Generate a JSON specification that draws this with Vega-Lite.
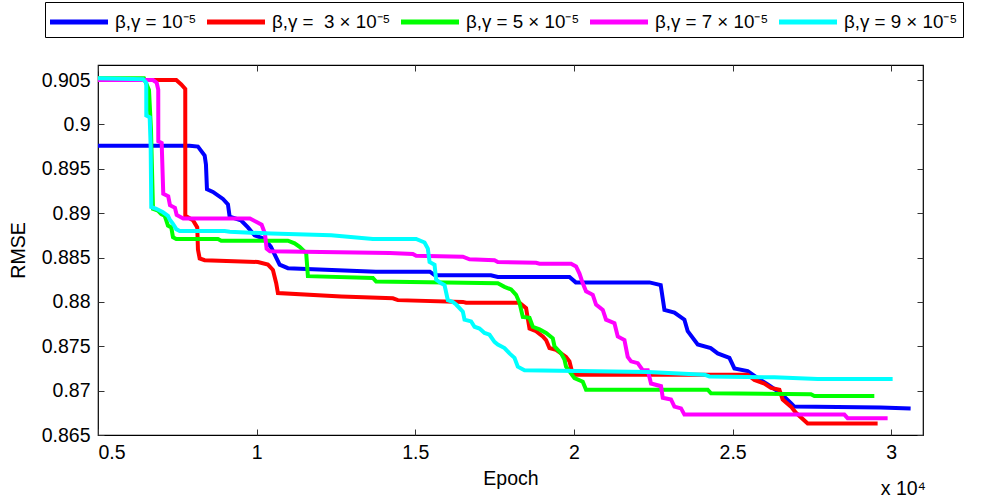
{
  "$schema": "https://vega.github.io/schema/vega-lite/v6.json",
  "width": 825,
  "height": 370,
  "autosize": "none",
  "padding": {"left": 98, "top": 65, "right": 61, "bottom": 65},
  "background": "white",
  "config": {
    "font": "Liberation Sans",
    "view": {"stroke": "black", "strokeWidth": 1.2},
    "axis": {
      "domain": false, "grid": false,
      "labelFont": "Liberation Sans", "labelFontSize": 19.5, "labelColor": "black",
      "titleFont": "Liberation Sans", "titleFontSize": 19.5, "titleFontWeight": "normal", "titleColor": "black",
      "tickColor": "#333", "tickSize": -6, "tickWidth": 1
    }
  },
  "title": {"text": "x 10⁴", "orient": "bottom", "anchor": "end", "frame": "group", "offset": -8, "dx": 3, "fontSize": 19.5, "fontWeight": "normal", "font": "Liberation Sans", "color": "black"},
  "data": {"values": [
    {"s": "β,γ = 10⁻⁵", "x": 5000, "y": 0.8976},
    {"s": "β,γ = 10⁻⁵", "x": 7889, "y": 0.8976},
    {"s": "β,γ = 10⁻⁵", "x": 8150, "y": 0.8975},
    {"s": "β,γ = 10⁻⁵", "x": 8361, "y": 0.8965},
    {"s": "β,γ = 10⁻⁵", "x": 8402, "y": 0.8955},
    {"s": "β,γ = 10⁻⁵", "x": 8434, "y": 0.8927},
    {"s": "β,γ = 10⁻⁵", "x": 8623, "y": 0.8924},
    {"s": "β,γ = 10⁻⁵", "x": 8938, "y": 0.8916},
    {"s": "β,γ = 10⁻⁵", "x": 9095, "y": 0.8910},
    {"s": "β,γ = 10⁻⁵", "x": 9149, "y": 0.8896},
    {"s": "β,γ = 10⁻⁵", "x": 9505, "y": 0.8892},
    {"s": "β,γ = 10⁻⁵", "x": 9725, "y": 0.8884},
    {"s": "β,γ = 10⁻⁵", "x": 9936, "y": 0.8875},
    {"s": "β,γ = 10⁻⁵", "x": 10251, "y": 0.8871},
    {"s": "β,γ = 10⁻⁵", "x": 10450, "y": 0.8862},
    {"s": "β,γ = 10⁻⁵", "x": 10724, "y": 0.8842},
    {"s": "β,γ = 10⁻⁵", "x": 10985, "y": 0.8838},
    {"s": "β,γ = 10⁻⁵", "x": 13757, "y": 0.8834},
    {"s": "β,γ = 10⁻⁵", "x": 15458, "y": 0.8834},
    {"s": "β,γ = 10⁻⁵", "x": 15616, "y": 0.8830},
    {"s": "β,γ = 10⁻⁵", "x": 17380, "y": 0.8830},
    {"s": "β,γ = 10⁻⁵", "x": 17600, "y": 0.8828},
    {"s": "β,γ = 10⁻⁵", "x": 19859, "y": 0.8828},
    {"s": "β,γ = 10⁻⁵", "x": 20057, "y": 0.8822},
    {"s": "β,γ = 10⁻⁵", "x": 22378, "y": 0.8822},
    {"s": "β,γ = 10⁻⁵", "x": 22734, "y": 0.8819},
    {"s": "β,γ = 10⁻⁵", "x": 22851, "y": 0.8791},
    {"s": "β,γ = 10⁻⁵", "x": 23166, "y": 0.8788},
    {"s": "β,γ = 10⁻⁵", "x": 23481, "y": 0.8780},
    {"s": "β,γ = 10⁻⁵", "x": 23585, "y": 0.8767},
    {"s": "β,γ = 10⁻⁵", "x": 23900, "y": 0.8752},
    {"s": "β,γ = 10⁻⁵", "x": 24310, "y": 0.8748},
    {"s": "β,γ = 10⁻⁵", "x": 24530, "y": 0.8742},
    {"s": "β,γ = 10⁻⁵", "x": 24899, "y": 0.8737},
    {"s": "β,γ = 10⁻⁵", "x": 25056, "y": 0.8725},
    {"s": "β,γ = 10⁻⁵", "x": 25475, "y": 0.8722},
    {"s": "β,γ = 10⁻⁵", "x": 25790, "y": 0.8714},
    {"s": "β,γ = 10⁻⁵", "x": 26105, "y": 0.8707},
    {"s": "β,γ = 10⁻⁵", "x": 26515, "y": 0.8697},
    {"s": "β,γ = 10⁻⁵", "x": 26839, "y": 0.8686},
    {"s": "β,γ = 10⁻⁵", "x": 26946, "y": 0.8682},
    {"s": "β,γ = 10⁻⁵", "x": 29665, "y": 0.8681},
    {"s": "β,γ = 10⁻⁵", "x": 30610, "y": 0.8680},

    {"s": "β,γ = \u00a03 × 10⁻⁵", "x": 5000, "y": 0.9050},
    {"s": "β,γ = \u00a03 × 10⁻⁵", "x": 7466, "y": 0.9050},
    {"s": "β,γ = \u00a03 × 10⁻⁵", "x": 7624, "y": 0.9045},
    {"s": "β,γ = \u00a03 × 10⁻⁵", "x": 7750, "y": 0.9040},
    {"s": "β,γ = \u00a03 × 10⁻⁵", "x": 7751, "y": 0.8897},
    {"s": "β,γ = \u00a03 × 10⁻⁵", "x": 7993, "y": 0.8892},
    {"s": "β,γ = \u00a03 × 10⁻⁵", "x": 8128, "y": 0.8884},
    {"s": "β,γ = \u00a03 × 10⁻⁵", "x": 8150, "y": 0.8859},
    {"s": "β,γ = \u00a03 × 10⁻⁵", "x": 8204, "y": 0.8849},
    {"s": "β,γ = \u00a03 × 10⁻⁵", "x": 8361, "y": 0.8847},
    {"s": "β,γ = \u00a03 × 10⁻⁵", "x": 10040, "y": 0.8845},
    {"s": "β,γ = \u00a03 × 10⁻⁵", "x": 10355, "y": 0.8842},
    {"s": "β,γ = \u00a03 × 10⁻⁵", "x": 10513, "y": 0.8836},
    {"s": "β,γ = \u00a03 × 10⁻⁵", "x": 10616, "y": 0.8821},
    {"s": "β,γ = \u00a03 × 10⁻⁵", "x": 10670, "y": 0.8810},
    {"s": "β,γ = \u00a03 × 10⁻⁵", "x": 12664, "y": 0.8806},
    {"s": "β,γ = \u00a03 × 10⁻⁵", "x": 14293, "y": 0.8804},
    {"s": "β,γ = \u00a03 × 10⁻⁵", "x": 14450, "y": 0.8802},
    {"s": "β,γ = \u00a03 × 10⁻⁵", "x": 16498, "y": 0.8800},
    {"s": "β,γ = \u00a03 × 10⁻⁵", "x": 16601, "y": 0.8799},
    {"s": "β,γ = \u00a03 × 10⁻⁵", "x": 18283, "y": 0.8799},
    {"s": "β,γ = \u00a03 × 10⁻⁵", "x": 18491, "y": 0.8793},
    {"s": "β,γ = \u00a03 × 10⁻⁵", "x": 18599, "y": 0.8770},
    {"s": "β,γ = \u00a03 × 10⁻⁵", "x": 18806, "y": 0.8767},
    {"s": "β,γ = \u00a03 × 10⁻⁵", "x": 19018, "y": 0.8761},
    {"s": "β,γ = \u00a03 × 10⁻⁵", "x": 19121, "y": 0.8757},
    {"s": "β,γ = \u00a03 × 10⁻⁵", "x": 19228, "y": 0.8748},
    {"s": "β,γ = \u00a03 × 10⁻⁵", "x": 19436, "y": 0.8746},
    {"s": "β,γ = \u00a03 × 10⁻⁵", "x": 19594, "y": 0.8742},
    {"s": "β,γ = \u00a03 × 10⁻⁵", "x": 19751, "y": 0.8738},
    {"s": "β,γ = \u00a03 × 10⁻⁵", "x": 19858, "y": 0.8733},
    {"s": "β,γ = \u00a03 × 10⁻⁵", "x": 19963, "y": 0.8718},
    {"s": "β,γ = \u00a03 × 10⁻⁵", "x": 25475, "y": 0.8718},
    {"s": "β,γ = \u00a03 × 10⁻⁵", "x": 25686, "y": 0.8712},
    {"s": "β,γ = \u00a03 × 10⁻⁵", "x": 26001, "y": 0.8708},
    {"s": "β,γ = \u00a03 × 10⁻⁵", "x": 26209, "y": 0.8703},
    {"s": "β,γ = \u00a03 × 10⁻⁵", "x": 26474, "y": 0.8701},
    {"s": "β,γ = \u00a03 × 10⁻⁵", "x": 26578, "y": 0.8690},
    {"s": "β,γ = \u00a03 × 10⁻⁵", "x": 26839, "y": 0.8682},
    {"s": "β,γ = \u00a03 × 10⁻⁵", "x": 26996, "y": 0.8675},
    {"s": "β,γ = \u00a03 × 10⁻⁵", "x": 27365, "y": 0.8663},
    {"s": "β,γ = \u00a03 × 10⁻⁵", "x": 29570, "y": 0.8663},

    {"s": "β,γ = 5 × 10⁻⁵", "x": 5000, "y": 0.9052},
    {"s": "β,γ = 5 × 10⁻⁵", "x": 6449, "y": 0.9052},
    {"s": "β,γ = 5 × 10⁻⁵", "x": 6607, "y": 0.9039},
    {"s": "β,γ = 5 × 10⁻⁵", "x": 6670, "y": 0.8994},
    {"s": "β,γ = 5 × 10⁻⁵", "x": 6733, "y": 0.8905},
    {"s": "β,γ = 5 × 10⁻⁵", "x": 6890, "y": 0.8903},
    {"s": "β,γ = 5 × 10⁻⁵", "x": 6994, "y": 0.8899},
    {"s": "β,γ = 5 × 10⁻⁵", "x": 7101, "y": 0.8897},
    {"s": "β,γ = 5 × 10⁻⁵", "x": 7151, "y": 0.8892},
    {"s": "β,γ = 5 × 10⁻⁵", "x": 7205, "y": 0.8886},
    {"s": "β,γ = 5 × 10⁻⁵", "x": 7309, "y": 0.8884},
    {"s": "β,γ = 5 × 10⁻⁵", "x": 7363, "y": 0.8873},
    {"s": "β,γ = 5 × 10⁻⁵", "x": 7466, "y": 0.8871},
    {"s": "β,γ = 5 × 10⁻⁵", "x": 8780, "y": 0.8871},
    {"s": "β,γ = 5 × 10⁻⁵", "x": 8884, "y": 0.8869},
    {"s": "β,γ = 5 × 10⁻⁵", "x": 10985, "y": 0.8869},
    {"s": "β,γ = 5 × 10⁻⁵", "x": 11196, "y": 0.8866},
    {"s": "β,γ = 5 × 10⁻⁵", "x": 11354, "y": 0.8862},
    {"s": "β,γ = 5 × 10⁻⁵", "x": 11561, "y": 0.8855},
    {"s": "β,γ = 5 × 10⁻⁵", "x": 11615, "y": 0.8829},
    {"s": "β,γ = 5 × 10⁻⁵", "x": 13663, "y": 0.8827},
    {"s": "β,γ = 5 × 10⁻⁵", "x": 13766, "y": 0.8823},
    {"s": "β,γ = 5 × 10⁻⁵", "x": 17600, "y": 0.8821},
    {"s": "β,γ = 5 × 10⁻⁵", "x": 17811, "y": 0.8817},
    {"s": "β,γ = 5 × 10⁻⁵", "x": 18019, "y": 0.8814},
    {"s": "β,γ = 5 × 10⁻⁵", "x": 18176, "y": 0.8808},
    {"s": "β,γ = 5 × 10⁻⁵", "x": 18284, "y": 0.8799},
    {"s": "β,γ = 5 × 10⁻⁵", "x": 18388, "y": 0.8783},
    {"s": "β,γ = 5 × 10⁻⁵", "x": 18599, "y": 0.8782},
    {"s": "β,γ = 5 × 10⁻⁵", "x": 18703, "y": 0.8772},
    {"s": "β,γ = 5 × 10⁻⁵", "x": 18914, "y": 0.8769},
    {"s": "β,γ = 5 × 10⁻⁵", "x": 19121, "y": 0.8765},
    {"s": "β,γ = 5 × 10⁻⁵", "x": 19333, "y": 0.8759},
    {"s": "β,γ = 5 × 10⁻⁵", "x": 19386, "y": 0.8750},
    {"s": "β,γ = 5 × 10⁻⁵", "x": 19594, "y": 0.8742},
    {"s": "β,γ = 5 × 10⁻⁵", "x": 19701, "y": 0.8735},
    {"s": "β,γ = 5 × 10⁻⁵", "x": 19751, "y": 0.8727},
    {"s": "β,γ = 5 × 10⁻⁵", "x": 20016, "y": 0.8714},
    {"s": "β,γ = 5 × 10⁻⁵", "x": 20278, "y": 0.8710},
    {"s": "β,γ = 5 × 10⁻⁵", "x": 20381, "y": 0.8701},
    {"s": "β,γ = 5 × 10⁻⁵", "x": 24215, "y": 0.8701},
    {"s": "β,γ = 5 × 10⁻⁵", "x": 24319, "y": 0.8697},
    {"s": "β,γ = 5 × 10⁻⁵", "x": 27469, "y": 0.8696},
    {"s": "β,γ = 5 × 10⁻⁵", "x": 27576, "y": 0.8694},
    {"s": "β,γ = 5 × 10⁻⁵", "x": 29466, "y": 0.8694},

    {"s": "β,γ = 7 × 10⁻⁵", "x": 5000, "y": 0.9050},
    {"s": "β,γ = 7 × 10⁻⁵", "x": 6733, "y": 0.9050},
    {"s": "β,γ = 7 × 10⁻⁵", "x": 6849, "y": 0.9047},
    {"s": "β,γ = 7 × 10⁻⁵", "x": 6899, "y": 0.9039},
    {"s": "β,γ = 7 × 10⁻⁵", "x": 6900, "y": 0.8981},
    {"s": "β,γ = 7 × 10⁻⁵", "x": 7007, "y": 0.8979},
    {"s": "β,γ = 7 × 10⁻⁵", "x": 7057, "y": 0.8922},
    {"s": "β,γ = 7 × 10⁻⁵", "x": 7214, "y": 0.8919},
    {"s": "β,γ = 7 × 10⁻⁵", "x": 7268, "y": 0.8909},
    {"s": "β,γ = 7 × 10⁻⁵", "x": 7425, "y": 0.8906},
    {"s": "β,γ = 7 × 10⁻⁵", "x": 7479, "y": 0.8898},
    {"s": "β,γ = 7 × 10⁻⁵", "x": 7687, "y": 0.8894},
    {"s": "β,γ = 7 × 10⁻⁵", "x": 9788, "y": 0.8894},
    {"s": "β,γ = 7 × 10⁻⁵", "x": 9999, "y": 0.8890},
    {"s": "β,γ = 7 × 10⁻⁵", "x": 10157, "y": 0.8887},
    {"s": "β,γ = 7 × 10⁻⁵", "x": 10261, "y": 0.8877},
    {"s": "β,γ = 7 × 10⁻⁵", "x": 10314, "y": 0.8860},
    {"s": "β,γ = 7 × 10⁻⁵", "x": 10418, "y": 0.8857},
    {"s": "β,γ = 7 × 10⁻⁵", "x": 14198, "y": 0.8855},
    {"s": "β,γ = 7 × 10⁻⁵", "x": 14923, "y": 0.8854},
    {"s": "β,γ = 7 × 10⁻⁵", "x": 15026, "y": 0.8852},
    {"s": "β,γ = 7 × 10⁻⁵", "x": 16498, "y": 0.8851},
    {"s": "β,γ = 7 × 10⁻⁵", "x": 16709, "y": 0.8848},
    {"s": "β,γ = 7 × 10⁻⁵", "x": 17496, "y": 0.8847},
    {"s": "β,γ = 7 × 10⁻⁵", "x": 17600, "y": 0.8845},
    {"s": "β,γ = 7 × 10⁻⁵", "x": 18806, "y": 0.8844},
    {"s": "β,γ = 7 × 10⁻⁵", "x": 18914, "y": 0.8843},
    {"s": "β,γ = 7 × 10⁻⁵", "x": 19909, "y": 0.8843},
    {"s": "β,γ = 7 × 10⁻⁵", "x": 20066, "y": 0.8840},
    {"s": "β,γ = 7 × 10⁻⁵", "x": 20174, "y": 0.8832},
    {"s": "β,γ = 7 × 10⁻⁵", "x": 20278, "y": 0.8821},
    {"s": "β,γ = 7 × 10⁻⁵", "x": 20381, "y": 0.8812},
    {"s": "β,γ = 7 × 10⁻⁵", "x": 20593, "y": 0.8808},
    {"s": "β,γ = 7 × 10⁻⁵", "x": 20696, "y": 0.8797},
    {"s": "β,γ = 7 × 10⁻⁵", "x": 20908, "y": 0.8791},
    {"s": "β,γ = 7 × 10⁻⁵", "x": 21011, "y": 0.8780},
    {"s": "β,γ = 7 × 10⁻⁵", "x": 21276, "y": 0.8776},
    {"s": "β,γ = 7 × 10⁻⁵", "x": 21380, "y": 0.8761},
    {"s": "β,γ = 7 × 10⁻⁵", "x": 21591, "y": 0.8757},
    {"s": "β,γ = 7 × 10⁻⁵", "x": 21695, "y": 0.8738},
    {"s": "β,γ = 7 × 10⁻⁵", "x": 21799, "y": 0.8733},
    {"s": "β,γ = 7 × 10⁻⁵", "x": 22010, "y": 0.8731},
    {"s": "β,γ = 7 × 10⁻⁵", "x": 22168, "y": 0.8723},
    {"s": "β,γ = 7 × 10⁻⁵", "x": 22325, "y": 0.8723},
    {"s": "β,γ = 7 × 10⁻⁵", "x": 22429, "y": 0.8708},
    {"s": "β,γ = 7 × 10⁻⁵", "x": 22744, "y": 0.8705},
    {"s": "β,γ = 7 × 10⁻⁵", "x": 22798, "y": 0.8692},
    {"s": "β,γ = 7 × 10⁻⁵", "x": 23059, "y": 0.8690},
    {"s": "β,γ = 7 × 10⁻⁵", "x": 23166, "y": 0.8682},
    {"s": "β,γ = 7 × 10⁻⁵", "x": 23374, "y": 0.8680},
    {"s": "β,γ = 7 × 10⁻⁵", "x": 23481, "y": 0.8673},
    {"s": "β,γ = 7 × 10⁻⁵", "x": 28521, "y": 0.8673},
    {"s": "β,γ = 7 × 10⁻⁵", "x": 28625, "y": 0.8669},
    {"s": "β,γ = 7 × 10⁻⁵", "x": 29885, "y": 0.8669},

    {"s": "β,γ = 9 × 10⁻⁵", "x": 5000, "y": 0.9052},
    {"s": "β,γ = 9 × 10⁻⁵", "x": 6418, "y": 0.9051},
    {"s": "β,γ = 9 × 10⁻⁵", "x": 6521, "y": 0.9047},
    {"s": "β,γ = 9 × 10⁻⁵", "x": 6522, "y": 0.9010},
    {"s": "β,γ = 9 × 10⁻⁵", "x": 6629, "y": 0.9008},
    {"s": "β,γ = 9 × 10⁻⁵", "x": 6660, "y": 0.8975},
    {"s": "β,γ = 9 × 10⁻⁵", "x": 6679, "y": 0.8907},
    {"s": "β,γ = 9 × 10⁻⁵", "x": 6836, "y": 0.8905},
    {"s": "β,γ = 9 × 10⁻⁵", "x": 7048, "y": 0.8901},
    {"s": "β,γ = 9 × 10⁻⁵", "x": 7205, "y": 0.8897},
    {"s": "β,γ = 9 × 10⁻⁵", "x": 7259, "y": 0.8893},
    {"s": "β,γ = 9 × 10⁻⁵", "x": 7363, "y": 0.8888},
    {"s": "β,γ = 9 × 10⁻⁵", "x": 7466, "y": 0.8882},
    {"s": "β,γ = 9 × 10⁻⁵", "x": 7574, "y": 0.8880},
    {"s": "β,γ = 9 × 10⁻⁵", "x": 8991, "y": 0.8880},
    {"s": "β,γ = 9 × 10⁻⁵", "x": 9149, "y": 0.8879},
    {"s": "β,γ = 9 × 10⁻⁵", "x": 10459, "y": 0.8877},
    {"s": "β,γ = 9 × 10⁻⁵", "x": 12349, "y": 0.8875},
    {"s": "β,γ = 9 × 10⁻⁵", "x": 13663, "y": 0.8871},
    {"s": "β,γ = 9 × 10⁻⁵", "x": 15026, "y": 0.8871},
    {"s": "β,γ = 9 × 10⁻⁵", "x": 15291, "y": 0.8867},
    {"s": "β,γ = 9 × 10⁻⁵", "x": 15395, "y": 0.8860},
    {"s": "β,γ = 9 × 10⁻⁵", "x": 15449, "y": 0.8845},
    {"s": "β,γ = 9 × 10⁻⁵", "x": 15606, "y": 0.8842},
    {"s": "β,γ = 9 × 10⁻⁵", "x": 15656, "y": 0.8825},
    {"s": "β,γ = 9 × 10⁻⁵", "x": 15814, "y": 0.8821},
    {"s": "β,γ = 9 × 10⁻⁵", "x": 15921, "y": 0.8819},
    {"s": "β,γ = 9 × 10⁻⁵", "x": 16025, "y": 0.8802},
    {"s": "β,γ = 9 × 10⁻⁵", "x": 16183, "y": 0.8800},
    {"s": "β,γ = 9 × 10⁻⁵", "x": 16286, "y": 0.8797},
    {"s": "β,γ = 9 × 10⁻⁵", "x": 16498, "y": 0.8789},
    {"s": "β,γ = 9 × 10⁻⁵", "x": 16551, "y": 0.8780},
    {"s": "β,γ = 9 × 10⁻⁵", "x": 16759, "y": 0.8778},
    {"s": "β,γ = 9 × 10⁻⁵", "x": 16866, "y": 0.8772},
    {"s": "β,γ = 9 × 10⁻⁵", "x": 17024, "y": 0.8770},
    {"s": "β,γ = 9 × 10⁻⁵", "x": 17181, "y": 0.8765},
    {"s": "β,γ = 9 × 10⁻⁵", "x": 17339, "y": 0.8763},
    {"s": "β,γ = 9 × 10⁻⁵", "x": 17496, "y": 0.8755},
    {"s": "β,γ = 9 × 10⁻⁵", "x": 17600, "y": 0.8752},
    {"s": "β,γ = 9 × 10⁻⁵", "x": 17811, "y": 0.8748},
    {"s": "β,γ = 9 × 10⁻⁵", "x": 17969, "y": 0.8742},
    {"s": "β,γ = 9 × 10⁻⁵", "x": 18126, "y": 0.8737},
    {"s": "β,γ = 9 × 10⁻⁵", "x": 18230, "y": 0.8727},
    {"s": "β,γ = 9 × 10⁻⁵", "x": 18441, "y": 0.8723},
    {"s": "β,γ = 9 × 10⁻⁵", "x": 22325, "y": 0.8721},
    {"s": "β,γ = 9 × 10⁻⁵", "x": 24111, "y": 0.8718},
    {"s": "β,γ = 9 × 10⁻⁵", "x": 24269, "y": 0.8716},
    {"s": "β,γ = 9 × 10⁻⁵", "x": 26316, "y": 0.8715},
    {"s": "β,γ = 9 × 10⁻⁵", "x": 27680, "y": 0.8713},
    {"s": "β,γ = 9 × 10⁻⁵", "x": 30043, "y": 0.8713}
  ]},
  "layer": [
    {
      "mark": {"type": "line", "strokeWidth": 4, "strokeJoin": "miter", "clip": true},
      "encoding": {
        "x": {"field": "x", "type": "quantitative", "sort": null,
              "scale": {"domain": [5000, 31000], "nice": false, "zero": false},
              "axis": {"title": "Epoch", "values": [5000, 10000, 15000, 20000, 25000, 30000],
                       "labelExpr": "'' + datum.value / 10000", "labelPadding": 14, "titlePadding": 8}},
        "y": {"field": "y", "type": "quantitative",
              "scale": {"domain": [0.865, 0.9067], "nice": false, "zero": false},
              "axis": {"title": "RMSE", "values": [0.865, 0.87, 0.875, 0.88, 0.885, 0.89, 0.895, 0.9, 0.905],
                       "labelExpr": "'' + round(datum.value * 1000) / 1000", "labelPadding": 14, "titlePadding": 13}},
        "color": {"field": "s", "type": "nominal",
                  "scale": {"domain": ["β,γ = 10⁻⁵", "β,γ = \u00a03 × 10⁻⁵", "β,γ = 5 × 10⁻⁵", "β,γ = 7 × 10⁻⁵", "β,γ = 9 × 10⁻⁵"],
                            "range": ["#0000ff", "#ff0000", "#00ff00", "#ff00ff", "#00ffff"]},
                  "legend": {"orient": "none", "legendX": -53, "legendY": -63, "direction": "horizontal", "title": null,
                             "symbolType": "M-1.2,0H3.44", "symbolStrokeWidth": 5, "symbolSize": 625, "symbolOffset": 0,
                             "labelFont": "Liberation Sans", "labelFontSize": 18.75, "labelColor": "black",
                             "strokeColor": "black", "fillColor": "white", "padding": 5, "columnPadding": 0, "labelOffset": 35, "labelLimit": 300}}
      }
    },
    {
      "mark": {"type": "line", "opacity": 0},
      "encoding": {
        "x": {"field": "x", "type": "quantitative",
              "axis": {"orient": "top", "labels": false, "title": null, "values": [5000, 10000, 15000, 20000, 25000, 30000]}},
        "y": {"field": "y", "type": "quantitative",
              "axis": {"orient": "right", "labels": false, "title": null, "values": [0.865, 0.87, 0.875, 0.88, 0.885, 0.89, 0.895, 0.9, 0.905]}},
        "detail": {"field": "s"}
      }
    }
  ],
  "resolve": {"axis": {"x": "independent", "y": "independent"}}
}
